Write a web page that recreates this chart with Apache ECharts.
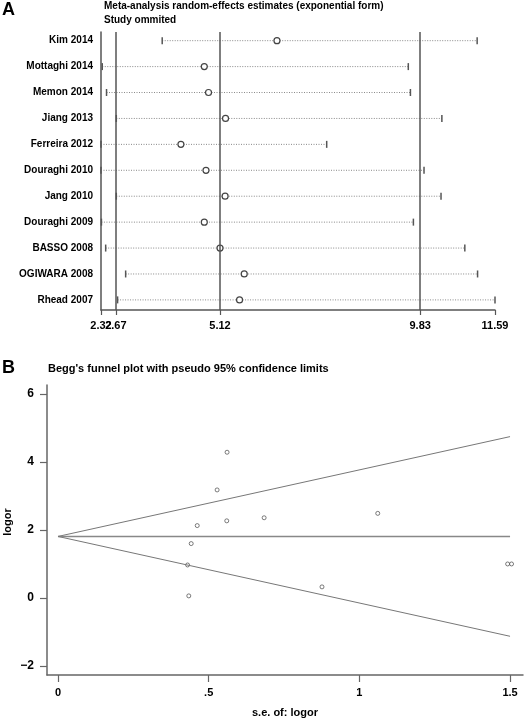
<!DOCTYPE html>
<html><head><meta charset="utf-8">
<script src="https://cdn.jsdelivr.net/npm/echarts@6/dist/echarts.min.js"></script>
<style>html,body{margin:0;padding:0;background:#fff}#c{width:524px;height:719px}</style>
</head><body><div id="c"></div>
<script>
// Panel A: study omitted (exponential form)
const studies = ['Kim 2014','Mottaghi 2014','Memon 2014','Jiang 2013','Ferreira 2012','Douraghi 2010','Jang 2010','Douraghi 2009','BASSO 2008','OGIWARA 2008','Rhead 2007'];
const estLow   = [3.76, 2.35, 2.45, 2.68, 2.32, 2.32, 2.68, 2.33, 2.43, 2.90, 2.71];
const estPoint = [6.46, 4.75, 4.85, 5.25, 4.20, 4.79, 5.24, 4.75, 5.12, 5.69, 5.58];
const estHigh  = [11.17, 9.55, 9.60, 10.34, 7.63, 9.92, 10.32, 9.67, 10.88, 11.18, 11.59];
const forestTicks = [2.32, 2.67, 5.12, 9.83, 11.59];
const refLines = [2.67, 5.12, 9.83];

// Panel B: Begg's funnel plot
const seLogor = [0.561, 0.528, 0.462, 0.560, 0.684, 1.061, 0.442, 0.430, 0.434, 0.876, 1.492, 1.505];
const logor   = [4.29, 3.18, 2.13, 2.27, 2.36, 2.49, 1.60, 0.97, 0.06, 0.325, 1.00, 1.00];
const funnelSE = [0, 1.5];
const funnelUpper  = [1.81, 4.75];
const funnelCenter = [1.81, 1.81];
const funnelLower  = [1.81, -1.13];
const funnelXTicks = [0, 0.5, 1, 1.5];
const funnelYTicks = [-2, 0, 2, 4, 6];

const FONT = 'Liberation Sans, Arial, sans-serif';
const chart = echarts.init(document.getElementById('c'), null, {renderer: 'canvas'});

const forestData = studies.map((s, i) => [estLow[i], estPoint[i], estHigh[i], i, s]);
const pair = (xs, ys) => xs.map((x, i) => [x, ys[i]]);
const forestLabel = {formatter: v => v.toFixed(2), fontFamily: FONT, fontSize: 11, fontWeight: 'bold', color: '#000', margin: 10};

const option = {
  animation: false,
  backgroundColor: '#fff',
  graphic: [
    {type: 'text', left: 2, top: 1, style: {text: 'A', font: 'bold 18px ' + FONT, fill: '#000'}},
    {type: 'text', left: 104, top: 1, style: {text: 'Meta-analysis random-effects estimates (exponential form)', font: 'bold 10px ' + FONT, fill: '#000'}},
    {type: 'text', left: 104, top: 15, style: {text: 'Study ommited', font: 'bold 10px ' + FONT, fill: '#000'}},
    {type: 'text', left: 2, top: 359, style: {text: 'B', font: 'bold 18px ' + FONT, fill: '#000'}},
    {type: 'text', left: 48, top: 363, style: {text: "Begg's funnel plot with pseudo 95% confidence limits", font: 'bold 11px ' + FONT, fill: '#000'}},
    {type: 'text', x: 8, y: 522, rotation: Math.PI / 2, style: {text: 'logor', font: 'bold 11px ' + FONT, fill: '#000', align: 'center', verticalAlign: 'middle'}}
  ],
  grid: [
    {left: 101, right: 29, top: 32, height: 278, containLabel: false, outerBoundsMode: 'none'},
    {left: 47, right: 1, top: 385, height: 290, containLabel: false, outerBoundsMode: 'none'}
  ],
  xAxis: [
    {
      gridIndex: 0, type: 'value', min: 2.32, max: 11.59, position: 'bottom',
      splitLine: {show: false},
      axisLine: {show: true, onZero: false, lineStyle: {color: '#555', width: 1.5}},
      axisTick: {show: true, customValues: forestTicks, length: 5, lineStyle: {color: '#555', width: 1.2}},
      axisLabel: Object.assign({customValues: [2.32, 5.12, 9.83, 11.59], showMinLabel: true, showMaxLabel: true}, forestLabel)
    },
    {
      gridIndex: 1, type: 'value', min: -0.0365, max: 1.543,
      splitLine: {show: false},
      axisLine: {show: true, onZero: false, lineStyle: {color: '#666', width: 1.5}},
      axisTick: {show: true, customValues: funnelXTicks, length: 7, lineStyle: {color: '#666', width: 1.2}},
      axisLabel: {customValues: funnelXTicks, formatter: v => v === 0 ? '0' : (v < 1 ? String(v).replace(/^0/, '') : String(v)), fontFamily: FONT, fontSize: 11, fontWeight: 'bold', color: '#000', margin: 12},
      name: 's.e. of: logor', nameLocation: 'middle', nameGap: 32,
      nameTextStyle: {fontFamily: FONT, fontSize: 11, fontWeight: 'bold', color: '#000'}
    },
    {
      gridIndex: 0, type: 'value', min: 2.32, max: 11.59, position: 'bottom', offset: 0,
      splitLine: {show: false},
      axisLine: {show: false, onZero: false},
      axisTick: {show: false},
      axisLabel: Object.assign({customValues: [2.67], showMinLabel: true, showMaxLabel: true}, forestLabel)
    }
  ],
  yAxis: [
    {
      gridIndex: 0, type: 'value', min: -0.335, max: 10.39, inverse: true,
      splitLine: {show: false},
      axisLine: {show: true, onZero: false, lineStyle: {color: '#555', width: 1.5}},
      axisTick: {show: false}, axisLabel: {show: false}
    },
    {
      gridIndex: 1, type: 'value', min: -2.27, max: 6.27,
      splitLine: {show: false},
      axisLine: {show: true, onZero: false, lineStyle: {color: '#666', width: 1.5}},
      axisTick: {show: true, customValues: funnelYTicks, length: 7, lineStyle: {color: '#666', width: 1.2}},
      axisLabel: {customValues: funnelYTicks, formatter: v => v < 0 ? '\u2212' + Math.abs(v) : String(v), fontFamily: FONT, fontSize: 12, fontWeight: 'bold', color: '#000', margin: 13}
    }
  ],
  series: [
    {
      type: 'custom', xAxisIndex: 0, yAxisIndex: 0,
      data: forestData,
      encode: {x: [0, 1, 2], y: 3},
      clip: false,
      renderItem: function (params, api) {
        const row = api.value(3);
        const p1 = api.coord([api.value(0), row]);
        const pe = api.coord([api.value(1), row]);
        const p2 = api.coord([api.value(2), row]);
        const name = studies[params.dataIndex];
        return {
          type: 'group',
          children: [
            {type: 'line', shape: {x1: p1[0], y1: p1[1], x2: p2[0], y2: p2[1]}, style: {stroke: '#888', lineWidth: 1, lineDash: [1, 1.5]}},
            {type: 'line', shape: {x1: p1[0], y1: p1[1] - 3.5, x2: p1[0], y2: p1[1] + 3.5}, style: {stroke: '#555', lineWidth: 1.5}},
            {type: 'line', shape: {x1: p2[0], y1: p2[1] - 3.5, x2: p2[0], y2: p2[1] + 3.5}, style: {stroke: '#555', lineWidth: 1.5}},
            {type: 'circle', shape: {cx: pe[0], cy: pe[1], r: 3}, style: {fill: '#fff', stroke: '#444', lineWidth: 1.2}},
            {type: 'text', x: 93, y: pe[1], style: {text: name, font: 'bold 10px ' + FONT, fill: '#000', align: 'right', verticalAlign: 'middle'}}
          ]
        };
      },
      markLine: {
        silent: true, symbol: ['none', 'none'], label: {show: false},
        lineStyle: {color: '#555', width: 1.5, type: 'solid'},
        data: refLines.map(v => ({xAxis: v}))
      }
    },
    {type: 'line', xAxisIndex: 1, yAxisIndex: 1, data: pair(funnelSE, funnelUpper), symbol: 'none', lineStyle: {color: '#777', width: 1}},
    {type: 'line', xAxisIndex: 1, yAxisIndex: 1, data: pair(funnelSE, funnelCenter), symbol: 'none', lineStyle: {color: '#888', width: 1.5}},
    {type: 'line', xAxisIndex: 1, yAxisIndex: 1, data: pair(funnelSE, funnelLower), symbol: 'none', lineStyle: {color: '#777', width: 1}},
    {type: 'scatter', xAxisIndex: 1, yAxisIndex: 1, data: pair(seLogor, logor), symbol: 'circle', symbolSize: 4,
      itemStyle: {color: '#fff', borderColor: '#333', borderWidth: 0.8}}
  ]
};
chart.setOption(option);
</script></body></html>
